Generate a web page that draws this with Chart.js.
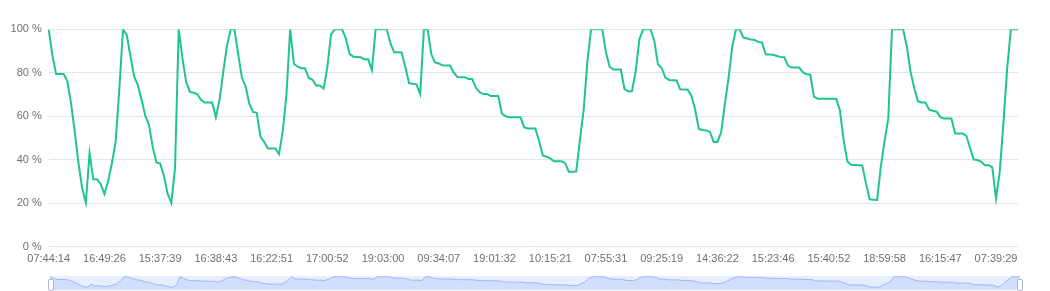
<!DOCTYPE html>
<html>
<head>
<meta charset="utf-8">
<script src="https://cdn.jsdelivr.net/npm/chart.js@4.4.0/dist/chart.umd.min.js"></script>
<style>
  html, body { margin: 0; padding: 0; background: #fff; }
  #wrap { position: relative; width: 1050px; height: 291px; overflow: hidden; }
  #main { position: absolute; left: 0; top: 0; }
  #slider {
    position: absolute; left: 50px; top: 276px; width: 970px; height: 14px;
    background: #e7efff; border-radius: 2px; box-sizing: border-box;
  }
  #mini { position: absolute; left: 0; top: 0; }
  .handle {
    position: absolute; top: 279px; width: 4px; height: 10px;
    background: #fff; border: 1px solid #acb8d1; border-radius: 2px;
  }
</style>
</head>
<body>
<div id="wrap">
  <canvas id="main" width="1050" height="291"></canvas>
  <div id="slider"><canvas id="mini" width="970" height="14"></canvas></div>
  <div class="handle" style="left:48px"></div>
  <div class="handle" style="left:1017px"></div>
</div>
<script>
// tick labels shown on the time axis (one every 15 samples)
var tickLabels = ['07:44:14', '16:49:26', '15:37:39', '16:38:43', '16:22:51', '17:00:52',
  '19:03:00', '09:34:07', '19:01:32', '10:15:21', '07:55:31', '09:25:19',
  '14:36:22', '15:23:46', '15:40:52', '18:59:58', '16:15:47', '07:39:29'];
var labelEvery = 15;

// level in %
var values = [
  100, 87.9, 79.4, 79.4, 79.4, 76.3, 66.2, 53.1, 38.7, 27,
  20.2, 43, 31, 31, 28.8, 24.2, 30.2, 38.3, 48, 72,
  100, 97.4, 87.7, 78.3, 74.3, 67.6, 60.3, 56, 45.8, 38.8,
  38.3, 32.6, 24.5, 20.2, 36, 100, 86.6, 75.9, 71.2, 70.8,
  70.1, 67.6, 66.3, 66.3, 66.3, 59.5, 67.7, 80.5, 92.6, 100,
  100, 88.6, 77.8, 73.8, 65.8, 62, 61.6, 50.6, 48.2, 45.2,
  45.2, 45.2, 42.6, 53, 70, 100, 84.2, 82.8, 82.1, 82.1,
  77.6, 76.8, 74.2, 74.2, 72.7, 82.5, 97.7, 100, 100, 100,
  95.6, 88.6, 87.4, 87.3, 87.1, 86.2, 86.2, 81.3, 100, 100,
  100, 100, 93.5, 89.4, 89.4, 89.3, 82.6, 75.2, 75, 74.7,
  70.2, 100, 100, 88.5, 84.8, 84.3, 83.4, 83.3, 83.3, 80.2,
  78.1, 78, 78, 77.1, 77.1, 73.1, 71.1, 70.2, 70.2, 69.3,
  69.3, 69.3, 61.2, 60, 59.5, 59.5, 59.5, 59.5, 54.9, 54.4,
  54.4, 54.4, 48.6, 42, 41.4, 40.6, 39.3, 39.3, 39.3, 38.4,
  34.5, 34.5, 34.6, 49.2, 62.9, 85.2, 100, 100, 100, 100,
  89.4, 82.8, 81.5, 81.5, 81.5, 72.5, 71.5, 71.5, 80.5, 95.4,
  100, 100, 100, 94.8, 83.8, 82.2, 77.8, 76.7, 76.6, 76.5,
  72.4, 72.3, 72.2, 69.5, 63.2, 54.2, 53.7, 53.5, 52.8, 48.2,
  48.2, 52.5, 65.5, 77.6, 92, 100, 100, 96.2, 95.8, 95.3,
  95.1, 94.2, 94, 88.5, 88.4, 88.3, 87.7, 87.3, 87.2, 83.3,
  82.4, 82.4, 82.4, 80.3, 79.3, 79.1, 69, 68.1, 68.1, 68.1,
  68.1, 68.1, 68.1, 62.5, 48.7, 39.2, 37.7, 37.6, 37.5, 37.4,
  29, 21.8, 21.6, 21.5, 37, 48.6, 59, 100, 100, 100,
  100, 92, 80.4, 72.9, 66.8, 66.3, 66.3, 63, 62.5, 62.1,
  59.6, 59, 59, 59, 52.1, 52.1, 52.1, 51, 45.5, 40.1,
  39.9, 39.2, 37.5, 37.5, 36.5, 22.2, 34.4, 57, 82, 100,
  100, 100
];

var yTicks = [0, 20, 40, 60, 80, 100];

var categories = values.map(function (v, i) {
  return i % labelEvery === 0 ? tickLabels[i / labelEvery] : '';
});

Chart.defaults.font.family = "'Liberation Sans', Arial, sans-serif";
Chart.defaults.font.size = 11;
Chart.defaults.color = '#6e7079';

new Chart(document.getElementById('main'), {
  type: 'line',
  data: {
    labels: categories,
    datasets: [{
      data: values,
      borderColor: '#1fc68c',
      borderWidth: 2,
      pointRadius: 0,
      tension: 0,
      fill: false
    }]
  },
  options: {
    responsive: false,
    animation: false,
    layout: { padding: { left: 0, right: 31.7, top: 29.3, bottom: 0 } },
    plugins: { legend: { display: false }, tooltip: { enabled: false } },
    scales: {
      x: {
        grid: { display: false, drawTicks: false },
        border: { display: false },
        ticks: { autoSkip: false, maxRotation: 0, minRotation: 0, padding: 6 },
        afterFit: function (s) { s.height = 44.3; }
      },
      y: {
        min: 0, max: 100,
        grid: { color: '#e0e6f1', drawTicks: false },
        border: { display: false },
        afterBuildTicks: function (s) { s.ticks = yTicks.map(function (v) { return { value: v }; }); },
        ticks: { padding: 7, callback: function (v) { return v + ' %'; } },
        afterFit: function (s) { s.width = 48.7; }
      }
    }
  }
});

// data shadow inside the zoom slider
new Chart(document.getElementById('mini'), {
  type: 'line',
  data: {
    labels: categories,
    datasets: [{
      data: values,
      borderColor: 'rgba(143,176,247,0.85)',
      borderWidth: 1,
      backgroundColor: 'rgba(143,176,247,0.25)',
      pointRadius: 0,
      fill: 'origin'
    }]
  },
  options: {
    responsive: false,
    animation: false,
    layout: { padding: 0 },
    plugins: { legend: { display: false }, tooltip: { enabled: false } },
    scales: {
      x: { display: false },
      y: { display: false, min: 0, max: 106 }
    }
  }
});
</script>
</body>
</html>
